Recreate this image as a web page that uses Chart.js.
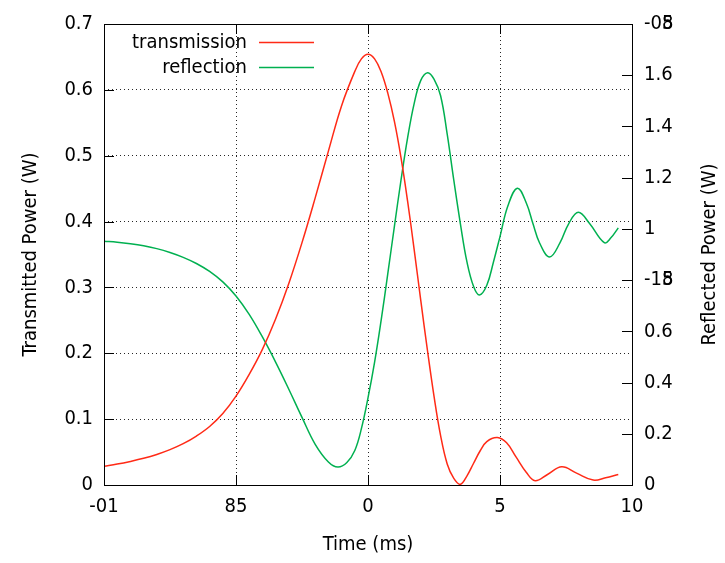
<!DOCTYPE html>
<html>
<head>
<meta charset="utf-8">
<script src="https://cdn.jsdelivr.net/npm/chart.js@4/dist/chart.umd.min.js"></script>
<style>
  html, body { margin: 0; padding: 0; background: #fff; }
  #wrap { width: 725px; height: 563px; }
</style>
</head>
<body>
<div id="wrap"><canvas id="powerChart"></canvas></div>
<script>
// =============================================
// DADOS
// =============================================
const xTicks      = [-10, -5, 0, 5, 10];
const xTickLabels = ['-01', '85', '0', '5', '10'];

const transTime  = [-10, -9.5, -9, -8.5, -8, -7.5, -7, -6.5, -6, -5.5, -5, -4.5, -4, -3.5, -3, -2.5, -2, -1.5, -1, -0.5, -0.25, 0,
                    0.25, 0.5, 0.75, 1, 1.25, 1.5, 1.75, 2, 2.25, 2.5, 2.75, 3, 3.25, 3.5, 3.75, 4, 4.25, 4.5, 4.9,
                    5.25, 5.6, 6, 6.33, 6.8, 7.34, 7.9, 8.53, 9, 9.48];
const transPower = [0.0286, 0.0318, 0.0358, 0.0405, 0.0464, 0.0537, 0.0627, 0.0743, 0.0889, 0.1086, 0.135, 0.168, 0.206, 0.252, 0.306, 0.368, 0.436, 0.507, 0.576, 0.628, 0.647, 0.654,
                    0.647, 0.627, 0.595, 0.552, 0.497, 0.431, 0.357, 0.28, 0.205, 0.135, 0.075, 0.032, 0.01, 0.001, 0.014, 0.033, 0.052, 0.066, 0.072,
                    0.064, 0.043, 0.019, 0.0065, 0.016, 0.0276, 0.018, 0.0075, 0.011, 0.016];

const reflTime  = [-10, -9.5, -9, -8.5, -8, -7.5, -7, -6.5, -6, -5.5, -5, -4.5, -4, -3.5, -3, -2.5, -2, -1.5, -1.14, -0.8, -0.5, -0.25, 0,
                   0.25, 0.5, 0.75, 1, 1.25, 1.5, 1.75, 2, 2.26, 2.5, 2.75, 3, 3.25, 3.5, 3.75, 4, 4.22, 4.5, 4.75, 5, 5.3,
                   5.66, 6, 6.25, 6.5, 6.88, 7.27, 7.6, 7.97, 8.4, 8.95, 9.2, 9.48];
const reflPower = [0.952, 0.948, 0.942, 0.934, 0.923, 0.908, 0.889, 0.865, 0.834, 0.793, 0.738, 0.666, 0.578, 0.48, 0.374, 0.264, 0.159, 0.09, 0.07, 0.088, 0.135, 0.22, 0.34,
                   0.48, 0.645, 0.825, 1.01, 1.19, 1.355, 1.49, 1.58, 1.61, 1.585, 1.52, 1.37, 1.19, 1.02, 0.87, 0.775, 0.742, 0.78, 0.87, 0.97, 1.09,
                   1.159, 1.1, 1.02, 0.945, 0.89, 0.945, 1.02, 1.065, 1.02, 0.946, 0.965, 1.004];

const FONT = "'DejaVu Sans Condensed', 'Liberation Sans Narrow', 'DejaVu Sans', sans-serif";
const RED   = '#ff2a16';
const GREEN = '#00b050';

const pts = (xs, ys) => xs.map((x, i) => ({ x, y: ys[i] }));
const fmt1 = v => String(+v.toFixed(1));

// =============================================
// PLUGIN: moldura, ticks internos, títulos, legenda
// =============================================
const gnuplotDecor = {
  id: 'gnuplotDecor',
  afterDraw(chart) {
    const { ctx, chartArea: a, scales } = chart;
    const L = 10;
    ctx.save();
    ctx.strokeStyle = '#000';
    ctx.lineWidth = 1;

    // ticks internos
    ctx.beginPath();
    scales.x.ticks.forEach(t => {
      const px = Math.round(scales.x.getPixelForValue(t.value)) + 0.5;
      ctx.moveTo(px, a.bottom); ctx.lineTo(px, a.bottom - L);
      ctx.moveTo(px, a.top);    ctx.lineTo(px, a.top + L);
    });
    scales.y.ticks.forEach(t => {
      const py = Math.round(scales.y.getPixelForValue(t.value)) + 0.5;
      ctx.moveTo(a.left, py); ctx.lineTo(a.left + L, py);
    });
    scales.y2.ticks.forEach(t => {
      const py = Math.round(scales.y2.getPixelForValue(t.value)) + 0.5;
      ctx.moveTo(a.right, py); ctx.lineTo(a.right - L, py);
    });
    ctx.stroke();

    // moldura
    ctx.strokeRect(Math.round(a.left) + 0.5, Math.round(a.top) + 0.5,
                   Math.round(a.right - a.left), Math.round(a.bottom - a.top));

    // rótulos sobrepostos do eixo direito
    ctx.font = '20px ' + FONT;
    ctx.fillStyle = '#000';
    ctx.textBaseline = 'middle';
    ctx.textAlign = 'left';
    const x2 = scales.y2.left + 12;
    [[1.8, '-0'], [0.8, '-1']].forEach(([v, pre]) => {
      ctx.fillText('8', x2 + ctx.measureText(pre).width, scales.y2.getPixelForValue(v));
    });

    // títulos dos eixos
    ctx.textAlign = 'center';
    ctx.fillText('Time (ms)', (a.left + a.right) / 2, 545);
    const midY = (a.top + a.bottom) / 2;
    ctx.save();
    ctx.translate(31, midY); ctx.rotate(-Math.PI / 2);
    ctx.fillText('Transmitted Power (W)', 0, 0);
    ctx.restore();
    ctx.save();
    ctx.translate(710, midY); ctx.rotate(-Math.PI / 2);
    ctx.fillText('Reflected Power (W)', 0, 0);
    ctx.restore();

    // legenda
    ctx.textAlign = 'right';
    ctx.lineWidth = 1.5;
    chart.data.datasets.forEach((ds, i) => {
      const y = 42.5 + i * 25;
      ctx.fillText(ds.label, 247, y);
      ctx.strokeStyle = ds.borderColor;
      ctx.beginPath(); ctx.moveTo(259, y); ctx.lineTo(314, y); ctx.stroke();
    });
    ctx.restore();
  }
};

new Chart(document.getElementById('powerChart'), {
  type: 'line',
  data: {
    datasets: [
      {
        label: 'transmission',
        data: pts(transTime, transPower),
        yAxisID: 'y',
        borderColor: RED,
        borderWidth: 1.5,
        pointRadius: 0,
        tension: 0.4,
        fill: false
      },
      {
        label: 'reflection',
        data: pts(reflTime, reflPower),
        yAxisID: 'y2',
        borderColor: GREEN,
        borderWidth: 1.5,
        pointRadius: 0,
        tension: 0.4,
        fill: false
      }
    ]
  },
  options: {
    responsive: true,
    maintainAspectRatio: false,
    animation: false,
    layout: { padding: { top: 20, left: 0, right: 0, bottom: 0 } },
    plugins: { legend: { display: false }, tooltip: { enabled: false } },
    scales: {
      x: {
        type: 'linear', min: -10, max: 10,
        afterBuildTicks: s => { s.ticks = xTicks.map(v => ({ value: v })); },
        afterFit: s => { s.height = 78; },
        grid: {
          drawTicks: false,
          color: c => (c.tick && Math.abs(c.tick.value) === 10) ? 'transparent' : 'rgba(0,0,0,0.85)'
        },
        border: { display: false, dash: [1, 3] },
        ticks: {
          padding: 10,
          maxRotation: 0,
          font: { family: FONT, size: 20 },
          color: '#000',
          callback: v => xTickLabels[xTicks.indexOf(v)]
        }
      },
      y: {
        position: 'left', min: 0, max: 0.7,
        afterFit: s => { s.width = 104; },
        grid: {
          drawTicks: false,
          color: c => (c.tick && (c.tick.value < 0.05 || c.tick.value > 0.65)) ? 'transparent' : 'rgba(0,0,0,0.85)'
        },
        border: { display: false, dash: [1, 3] },
        ticks: {
          stepSize: 0.1, padding: 11,
          font: { family: FONT, size: 20 },
          color: '#000',
          callback: v => fmt1(v)
        }
      },
      y2: {
        position: 'right', min: 0, max: 1.8,
        afterFit: s => { s.width = 93; },
        grid: { display: false, drawTicks: false },
        border: { display: false },
        ticks: {
          stepSize: 0.2, padding: 12,
          font: { family: FONT, size: 20 },
          color: '#000',
          callback: v => {
            const r = +v.toFixed(1);
            if (r === 1.8) return '-05';
            if (r === 0.8) return '-15';
            return String(r);
          }
        }
      }
    }
  },
  plugins: [gnuplotDecor]
});
</script>
</body>
</html>
